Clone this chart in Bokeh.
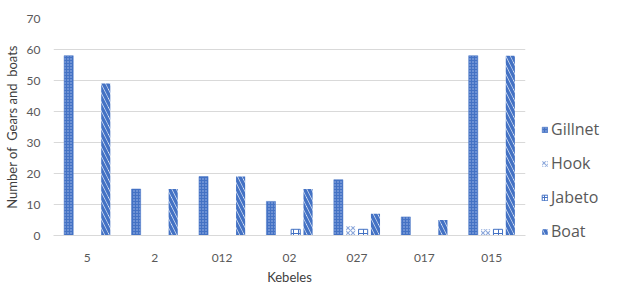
from bokeh.plotting import figure
from bokeh.models import ColumnDataSource, FactorRange, Legend, LegendItem, SingleIntervalTicker
from bokeh.transform import dodge
from bokeh.layouts import row
from bokeh.embed import file_html
from bokeh.resources import INLINE

kebeles = ["5", "2", "012", "02", "027", "017", "015"]
gillnet = [58, 15, 19, 11, 18, 6, 58]
hook = [0, 0, 0, 0, 3, 0, 2]
jabeto = [0, 0, 0, 2, 2, 0, 2]
boat = [49, 15, 19, 15, 7, 5, 58]
series_names = ["Gillnet", "Hook", "Jabeto", "Boat"]

src = ColumnDataSource(dict(k=kebeles, gillnet=gillnet, hook=hook, jabeto=jabeto, boat=boat))

FONT = "Lato"
GREY = "#595959"
BLUE = "#4472C4"

styles = [
    dict(fill_color=BLUE, line_color=BLUE, line_width=0.5,
         hatch_pattern="dot", hatch_color="#A9C0EA", hatch_scale=3, hatch_weight=1),
    dict(fill_color="white", line_color=None,
         hatch_pattern="diagonal_cross", hatch_color="#8FAADC", hatch_scale=5, hatch_weight=1.2),
    dict(fill_color="white", line_color=BLUE, line_width=1,
         hatch_pattern="cross", hatch_color=BLUE, hatch_scale=5, hatch_weight=1),
    dict(fill_color="white", line_color=None,
         hatch_pattern="left_diagonal_line", hatch_color=BLUE, hatch_scale=9, hatch_weight=3.5),
]
cols = ["gillnet", "hook", "jabeto", "boat"]

TOP, BOTTOM = 18, 47
p = figure(x_range=FactorRange(*kebeles), y_range=(0, 70), frame_width=472, frame_height=217,
           output_backend="svg", toolbar_location=None,
           min_border_left=51, min_border_right=8, min_border_top=TOP, min_border_bottom=10)
p.outline_line_color = None

w = 0.135
offs = [-0.275, -0.092, 0.092, 0.275]
for c, o, st in zip(cols, offs, styles):
    p.vbar(x=dodge("k", o, range=p.x_range), top=c, width=w, source=src, **st)

p.yaxis.ticker = SingleIntervalTicker(interval=10)
p.ygrid.grid_line_color = "#D9D9D9"
p.ygrid.grid_line_width = 1.2
p.xgrid.grid_line_color = None
p.yaxis.axis_line_color = None
p.yaxis.major_tick_line_color = None
p.yaxis.minor_tick_line_color = None
p.xaxis.axis_line_color = "#D9D9D9"
p.xaxis.axis_line_width = 1.2
p.xaxis.major_tick_line_color = None
p.xaxis.minor_tick_line_color = None
for ax in (p.xaxis, p.yaxis):
    ax.major_label_text_font = FONT
    ax.major_label_text_font_size = "12px"
    ax.major_label_text_color = GREY
    ax.axis_label_text_font = FONT
    ax.axis_label_text_font_size = "13px"
    ax.axis_label_text_color = "#404040"
    ax.axis_label_text_font_style = "normal"
p.xaxis.major_label_standoff = 12
p.yaxis.major_label_standoff = 7
p.xaxis.axis_label = "Kebeles"
p.yaxis.axis_label = "Number of\u00a0 Gears and\u00a0 boats"
p.xaxis.axis_label_standoff = 4
p.yaxis.axis_label_standoff = 4

# legend panel
lf = figure(frame_width=71, frame_height=TOP + 217 + BOTTOM, output_backend="svg",
            toolbar_location=None, x_range=(0, 1), y_range=(0, 1),
            min_border_left=0, min_border_right=0, min_border_top=0, min_border_bottom=0)
lf.outline_line_color = None
lf.axis.visible = False
lf.grid.visible = False
dummy = ColumnDataSource(dict(x=[0.5], top=[-5], bottom=[-6]))
items = []
for name, st in zip(series_names, styles):
    r = lf.vbar(x="x", top="top", bottom="bottom", width=0.1, source=dummy, **st)
    items.append(LegendItem(label=name, renderers=[r]))
legend = Legend(items=items, location=(8, 40), spacing=12, glyph_width=7, glyph_height=7,
                label_height=20, label_text_font="Open Sans", label_text_font_size="16px",
                label_text_color=GREY, label_text_baseline="middle",
                border_line_color=None, background_fill_alpha=0, padding=4, margin=0,
                label_standoff=3)
lf.add_layout(legend)

layout = row(p, lf)
open("out.html", "w").write(file_html(layout, INLINE))
